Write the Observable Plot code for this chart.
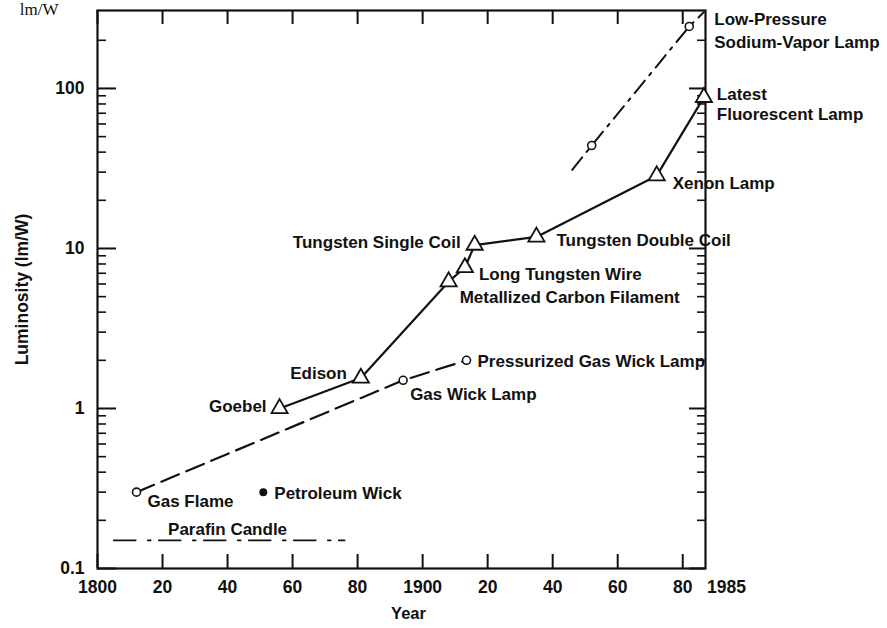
<!DOCTYPE html>
<html><head><meta charset="utf-8">
<script src="https://cdn.jsdelivr.net/npm/d3@7"></script>
<script src="https://cdn.jsdelivr.net/npm/@observablehq/plot@0.6"></script>
<style>
html,body{margin:0;padding:0;background:#fff;}
</style></head><body><div id="chart"></div>
<script>
// ---- data ----
const mainNames = ["Goebel","Edison","Metallized Carbon Filament","Long Tungsten Wire","Tungsten Single Coil","Tungsten Double Coil","Xenon Lamp","Latest Fluorescent Lamp"];
const mainYears = [1856, 1881, 1908, 1913, 1916, 1935, 1972, 1986.5];
const mainValues = [1.0, 1.55, 6.2, 7.6, 10.5, 11.8, 28.5, 88];

const gasNames = ["Gas Flame","Gas Wick Lamp","Pressurized Gas Wick Lamp"];
const gasYears = [1812, 1894, 1913.5];
const gasValues = [0.3, 1.5, 2.0];

const sodiumYears = [1946, 1952, 1982, 1986.5];
const sodiumValues = [31, 44, 244, 300];
const sodiumMarked = [false, true, true, false];

const petroleumYears = [1851];
const petroleumValues = [0.3];

const candleYears = [1805, 1876];
const candleValues = [0.15, 0.15];

const xTickValues = [1800,1820,1840,1860,1880,1900,1920,1940,1960,1980];
const xTickLabels = ["1800","20","40","60","80","1900","20","40","60","80"];
const xEndValue = 1987;
const xEndLabel = "1985";
const yTickValues = [0.1, 1, 10, 100];
const yTickLabels = ["0.1","1","10","100"];
const yMinorTicks = [0.2,0.3,0.4,0.5,0.6,0.7,0.8,0.9,2,3,4,5,6,7,8,9,20,30,40,50,60,70,80,90,200];

const xLabel = "Year";
const yLabel = "Luminosity (lm/W)";
const unitFragment = "lm/W";

// ---- tables ----
const mainData = mainYears.map((y,i)=>({year:y, value:mainValues[i], name:mainNames[i]}));
const gasData = gasYears.map((y,i)=>({year:y, value:gasValues[i], name:gasNames[i]}));
const sodiumData = sodiumYears.map((y,i)=>({year:y, value:sodiumValues[i], marked:sodiumMarked[i]}));
const petroleumData = petroleumYears.map((y,i)=>({year:y, value:petroleumValues[i]}));
const candleData = candleYears.map((y,i)=>({year:y, value:candleValues[i]}));

// annotation layout (text anchored at a data point, offset in px)
const labels = [
  {text:"Gas Flame", year:1812, value:0.3, anchor:"start", dx:11, dy:8},
  {text:"Petroleum Wick", year:1851, value:0.3, anchor:"start", dx:11, dy:0},
  {text:"Parafin Candle", year:1840, value:0.15, anchor:"middle", dx:0, dy:-12},
  {text:"Goebel", year:1856, value:1.0, anchor:"end", dx:-13, dy:-3},
  {text:"Edison", year:1881, value:1.55, anchor:"end", dx:-14, dy:-6},
  {text:"Gas Wick Lamp", year:1894, value:1.5, anchor:"start", dx:7, dy:13},
  {text:"Pressurized Gas Wick Lamp", year:1913.5, value:2.0, anchor:"start", dx:11, dy:0},
  {text:"Metallized Carbon Filament", year:1908, value:6.2, anchor:"start", dx:11, dy:15},
  {text:"Long Tungsten Wire", year:1913, value:7.6, anchor:"start", dx:14, dy:6},
  {text:"Tungsten Single Coil", year:1916, value:10.5, anchor:"end", dx:-14, dy:-4},
  {text:"Tungsten Double Coil", year:1935, value:11.8, anchor:"start", dx:20, dy:3},
  {text:"Xenon Lamp", year:1972, value:28.5, anchor:"start", dx:16, dy:7},
  {text:"Latest\nFluorescent Lamp", year:1986.5, value:88, anchor:"start", dx:13, dy:6, lh:1.2},
  {text:"Low-Pressure\nSodium-Vapor Lamp", year:1982, value:244, anchor:"start", dx:25, dy:3, lh:1.32}
];

const W=887, H=628, mL=97, mR=182, mT=10, mB=60;
const plotW = W-mL-mR, plotH = H-mT-mB;
const ink = "#111";
const fs = 17;

const chart = Plot.plot({
  width:W, height:H, marginLeft:mL, marginRight:mR, marginTop:mT, marginBottom:mB,
  style:{fontFamily:"'Liberation Sans', Arial, sans-serif", fontWeight:"bold", background:"#fff", color:ink},
  x:{domain:[1800, xEndValue]},
  y:{type:"log", domain:[0.1, 307]},
  marks:[
    // tick marks (inward)
    Plot.tickX(xTickValues, {x:d=>d, insetTop:plotH-14, stroke:ink, strokeWidth:2}),
    Plot.tickX(xTickValues, {x:d=>d, insetBottom:plotH-14, stroke:ink, strokeWidth:2}),
    Plot.tickY(yTickValues, {y:d=>d, insetRight:plotW-19, stroke:ink, strokeWidth:2}),
    Plot.tickY(yMinorTicks, {y:d=>d, insetRight:plotW-9, stroke:ink, strokeWidth:1.6}),
    Plot.tickY(yTickValues, {y:d=>d, insetLeft:plotW-16, stroke:ink, strokeWidth:2}),
    Plot.tickY(yMinorTicks, {y:d=>d, insetLeft:plotW-8, stroke:ink, strokeWidth:1.6}),
    Plot.frame({stroke:ink, strokeWidth:2.2}),
    // tick labels
    Plot.axisX(xTickValues, {tickSize:0, tickPadding:12, fontSize:17.5, label:null,
      tickFormat:d=>xTickLabels[xTickValues.indexOf(d)]}),
    Plot.text([xEndValue], {x:d=>d, frameAnchor:"bottom", text:()=>xEndLabel, dx:21, dy:19, fontSize:17.5, lineAnchor:"middle"}),
    Plot.axisY(yTickValues, {tickSize:0, tickPadding:13, fontSize:17.5, label:null,
      tickFormat:d=>yTickLabels[yTickValues.indexOf(d)]}),
    Plot.text([xLabel], {frameAnchor:"bottom", dx:7, dy:45, fontSize:16.5, lineAnchor:"middle"}),
    Plot.text([yLabel], {frameAnchor:"left", dx:-75, rotate:-90, textAnchor:"middle", fontSize:17.5, lineAnchor:"middle"}),
    Plot.text([unitFragment], {frameAnchor:"top-left", dx:58-mL, dy:14-mT, textAnchor:"end", lineAnchor:"bottom",
      fontFamily:"'Liberation Serif', serif", fontWeight:"normal", fontSize:17}),
    // series
    Plot.line(candleData, {x:"year", y:"value", stroke:ink, strokeWidth:1.7, strokeDasharray:"22,12,3,8"}),
    Plot.line(gasData, {x:"year", y:"value", stroke:ink, strokeWidth:2.2, strokeDasharray:"19,8"}),
    Plot.line(sodiumData, {x:"year", y:"value", stroke:ink, strokeWidth:2, strokeDasharray:"16,7,3,7"}),
    Plot.line(mainData, {x:"year", y:"value", stroke:ink, strokeWidth:2.2}),
    Plot.dot(mainData, {x:"year", y:"value", symbol:"triangle", r:6, fill:"white", stroke:ink, strokeWidth:1.8}),
    Plot.dot(gasData, {x:"year", y:"value", r:4, fill:"white", stroke:ink, strokeWidth:1.6}),
    Plot.dot(sodiumData.filter(d=>d.marked), {x:"year", y:"value", r:4, fill:"white", stroke:ink, strokeWidth:1.6}),
    Plot.dot(petroleumData, {x:"year", y:"value", r:4, fill:ink}),
    // annotations
    ...labels.map(l => Plot.text([l], {x:"year", y:"value", text:"text", textAnchor:l.anchor,
      dx:l.dx, dy:l.dy, fontSize:fs, lineAnchor:"middle", lineHeight:l.lh || 1.2, fill:ink}))
  ]
});
document.getElementById("chart").appendChild(chart);
</script></body></html>
